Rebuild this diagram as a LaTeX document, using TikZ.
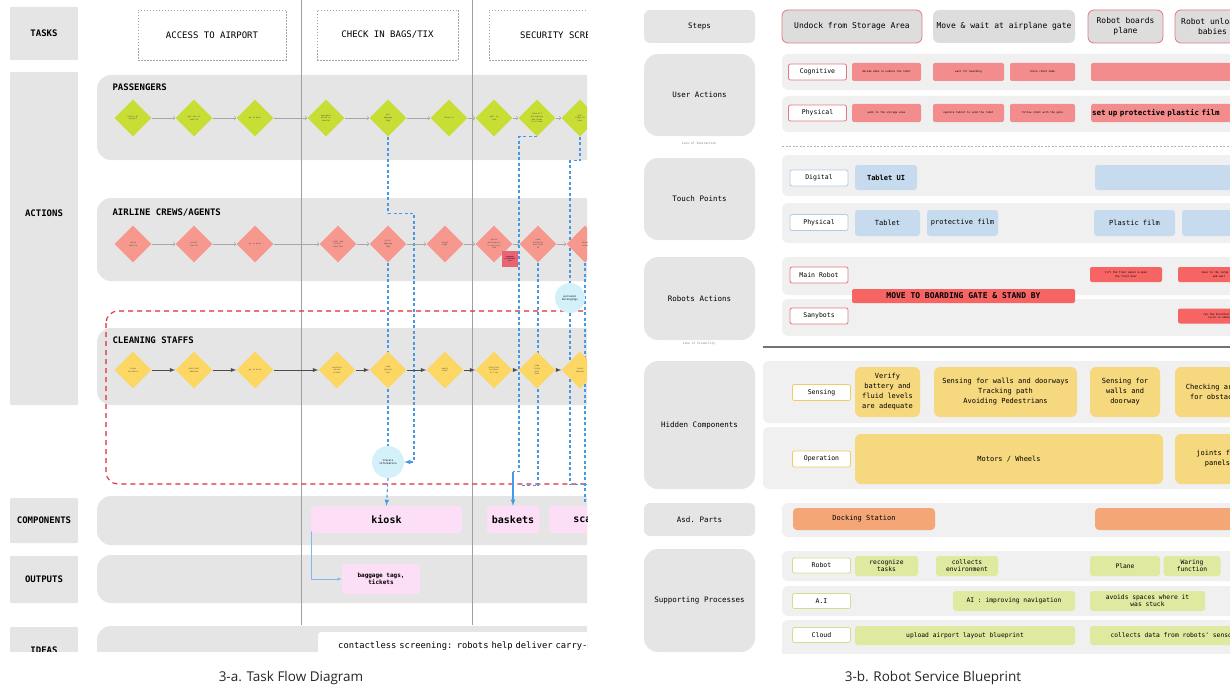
\documentclass[tikz,border=0pt]{standalone}
\usepackage{fontspec}
\setmainfont{Open Sans}
\setmonofont{DejaVu Sans Mono}
\usetikzlibrary{shapes.geometric,calc}
\pgfdeclarelayer{back}
\pgfdeclarelayer{mid}
\pgfsetlayers{back,mid,main}

\newcommand\fsz[2]{\fontsize{#1}{#2}\selectfont}

\definecolor{lblgray}{RGB}{229,229,229}
\definecolor{rowgray}{RGB}{240,240,240}
\definecolor{stepgray}{RGB}{221,221,221}
\definecolor{limec}{RGB}{200,222,52}
\definecolor{salmon}{RGB}{247,152,142}
\definecolor{sun}{RGB}{253,215,100}
\definecolor{pinkc}{RGB}{252,222,246}
\definecolor{cyanc}{RGB}{212,241,250}
\definecolor{flowblue}{RGB}{72,152,232}
\definecolor{dashred}{RGB}{222,42,52}
\definecolor{sticky}{RGB}{232,100,115}
\definecolor{redbox}{RGB}{243,140,140}
\definecolor{hotred}{RGB}{246,100,100}
\definecolor{tpblue}{RGB}{198,219,238}
\definecolor{hcyellow}{RGB}{246,216,126}
\definecolor{orangec}{RGB}{245,166,118}
\definecolor{greenc}{RGB}{223,233,160}
\definecolor{redline}{RGB}{228,120,125}
\definecolor{blueline}{RGB}{175,205,235}
\definecolor{yelline}{RGB}{240,205,100}
\definecolor{grnline}{RGB}{210,222,140}

\tikzset{
  lblbox/.style={fill=lblgray, minimum width=68pt, rounded corners=1pt, font=\ttfamily\bfseries\fsz{9}{10}},
  lane/.style={fill=lblgray, rounded corners=14pt},
  lanetitle/.style={anchor=west, font=\ttfamily\bfseries\fsz{9}{10}},
  taskbox/.style={draw=gray!70, dash pattern=on 1.5pt off 1.5pt, line width=0.6pt, fill=white, minimum height=50pt, font=\ttfamily\fsz{9}{10}},
  dia/.style={diamond, minimum size=37pt, inner sep=0pt, align=center, text=black!70, font=\ttfamily\fsz{2}{2.6}},
  dpass/.style={dia, fill=limec},
  dcrew/.style={dia, fill=salmon},
  dclean/.style={dia, fill=sun},
  pline/.style={draw=gray!70, line width=0.6pt, ->},
  cline/.style={draw=black!70, line width=0.9pt, -latex},
  bflow/.style={draw=flowblue, line width=1.1pt, dash pattern=on 3pt off 2.5pt},
  info/.style={circle, fill=cyanc, minimum size=32pt, inner sep=0pt, align=center, font=\ttfamily\fsz{2.6}{3.2}},
  comp/.style={fill=pinkc, rounded corners=3pt, minimum height=27pt, font=\ttfamily\bfseries\fsz{10}{11}},
  % 右图样式
  steplbl/.style={fill=lblgray, rounded corners=6pt, minimum width=111pt, font=\ttfamily\fsz{7.5}{9}},
  tinytxt/.style={text=gray, font=\ttfamily\fsz{3}{3.5}},
  rowbg/.style={fill=rowgray, rounded corners=6pt},
  rowtag/.style={fill=white, line width=0.8pt, rounded corners=2pt, minimum width=58pt, minimum height=16pt, inner sep=1pt, font=\ttfamily\fsz{6.5}{8}},
  stepcard/.style={fill=stepgray, rounded corners=6pt, minimum height=33pt, align=center, line width=0.8pt, font=\ttfamily\fsz{8}{9.5}},
  ua/.style={fill=redbox, rounded corners=2pt, minimum height=18pt, inner sep=1pt, align=center, font=\ttfamily\fsz{2.6}{3.2}},
  tp/.style={fill=tpblue, rounded corners=3pt, minimum height=25pt, font=\ttfamily\fsz{7}{8.5}},
  hot/.style={fill=hotred, rounded corners=2pt, minimum height=15pt, inner sep=1pt, align=center, font=\ttfamily\fsz{2.6}{3.2}},
  hc/.style={fill=hcyellow, rounded corners=6pt, minimum height=50pt, align=center, font=\ttfamily\fsz{7}{10}},
  orng/.style={fill=orangec, rounded corners=4pt, minimum height=22pt, font=\ttfamily\fsz{7}{8}},
  sp/.style={fill=greenc, rounded corners=3pt, minimum height=20pt, inner sep=1pt, align=center, font=\ttfamily\fsz{6.3}{7}}
}

\begin{document}
\begin{tikzpicture}[x=1pt,y=-1pt]
\useasboundingbox (0,0) rectangle (1230,690);

% ===== 3-a 任务流程图 =====
\begin{scope}
\clip (0,0) rectangle (587,651);

% 泳道、分隔线、红色虚线框
\begin{pgfonlayer}{back}
\begin{scope}
\clip (0,0) rectangle (587,651);
\fill[lane] (97,75) rectangle (640,160);
\fill[lane] (97,198) rectangle (640,281);
\fill[lane] (97,328) rectangle (640,405);
\fill[lane] (97,496) rectangle (640,545);
\fill[lane] (97,555) rectangle (640,603);
\fill[lane] (97,626) rectangle (640,680);
\foreach \x in {301,472} \draw[gray!75, line width=0.6pt] (\x,0) -- (\x,625);
\draw[dashred, line width=1.1pt, dash pattern=on 5pt off 4pt, rounded corners=12pt] (106,311) rectangle (640,484);
\end{scope}
\end{pgfonlayer}

% 左侧标签
\node[lblbox, minimum height=53pt] (tasks) at (44,33.5) {TASKS};
\node[lblbox, minimum height=333pt] (actions) at (44,238.5) {};
\node[lanetitle, anchor=center] (actlbl) at (44,213) {ACTIONS};
\node[lblbox, minimum height=45pt] (components) at (44,520.5) {COMPONENTS};
\node[lblbox, minimum height=47pt] (outputs) at (44,579.5) {OUTPUTS};
\node[lblbox, minimum height=46pt] (ideas) at (44,650) {IDEAS};

% 任务
\node[taskbox, minimum width=148pt] (access) at (212,35) {ACCESS TO AIRPORT};
\node[taskbox, minimum width=141pt] (checkin) at (387.5,35) {CHECK IN BAGS/TIX};
\node[taskbox, minimum width=160pt] (security) at (569,35) {SECURITY SCREENING};

% 泳道标题
\node[lanetitle] (pass) at (109,87) {PASSENGERS};
\node[lanetitle] (crew) at (109,213) {AIRLINE CREWS/AGENTS};
\node[lanetitle] (clean) at (109,340) {CLEANING STAFFS};

% 菱形步骤
\foreach \x/\t [count=\i] in {133/{arrive at\\airport}, 194/{get out of\\vehicle}, 255/{go to door},
    326/{approach\\kiosk or\\counter}, 388/{get\\baggage\\tags}, 449/{check in},
    494/{wait in\\line}, 537/{take off\\belongings\\and shoes\\to screen}, 580/{put\\items in\\bins}}
  \node[dpass] (p\i) at (\x,118) {\t};
\foreach \x/\t [count=\i] in {133/{check\\vehicle}, 194/{direct\\traffic}, 255/{go to gate},
    338/{greet and\\assist\\travelers}, 388/{print\\baggage\\tags}, 445/{weigh\\bags},
    494/{guide\\passengers\\to security\\line}, 538/{scan\\boarding\\pass and\\ID}, 585/{check\\items}}
  \node[dcrew] (a\i) at (\x,244) {\t};
\foreach \x/\t [count=\i] in {133/{clean\\entrance}, 194/{disinfect\\handles}, 255/{go to area},
    337/{sanitize\\kiosk\\screen}, 388/{wipe\\counter\\top}, 445/{empty\\bins},
    494/{disinfect\\surfaces\\in line}, 537/{wipe\\trays\\and\\bins}, 580/{clean\\scanner}}
  \node[dclean] (c\i) at (\x,370) {\t};

% 步骤之间的连线
\foreach \i in {1,...,8}{
  \pgfmathtruncatemacro\nxt{\i+1}
  \draw[pline] (p\i) -- (p\nxt);
  \draw[pline] (a\i) -- (a\nxt);
  \draw[cline] (c\i) -- (c\nxt);
}

\node[fill=sticky, minimum size=16pt, inner sep=0pt, align=center, font=\ttfamily\fsz{1.8}{2.2}] (note) at (510,259) {baggage\\overweight\\fee};

% 信息圆
\node[info] (trav) at (388,462) {travels\\information};
\node[info, minimum size=30pt] (pers) at (570,298) {personal\\belongings};

% 组件与输出
\node[comp, minimum width=151pt] (kiosk) at (386.5,519.5) {kiosk};
\node[comp, minimum width=53pt] (baskets) at (513,519.5) {baskets};
\node[comp, minimum width=91pt] (scanner) at (594.5,519.5) {scanner};
\node[comp, minimum width=78pt, minimum height=30pt, align=center, font=\ttfamily\bfseries\fsz{6}{7.5}] (tags) at (381,579) {baggage tags,\\tickets};
\node[fill=white, rounded corners=3pt, anchor=west, minimum height=28pt, text width=300pt, align=left, inner xsep=20pt,
  font=\ttfamily\fsz{8.8}{10}] (idea) at (318,646) {contactless screening: robots help deliver carry-on items};

% 蓝色虚线
\begin{pgfonlayer}{mid}
\begin{scope}
\clip (0,0) rectangle (587,651);
\draw[bflow,-latex] (p5.south) -- ++(0,77) -- ++(26,0) |- (trav.east);
\draw[bflow] (a5.south) -- (trav.north);
\draw[bflow,-latex] (trav.south) -- (kiosk.north);
\draw[bflow] (p8.south) -- ++(-18,0) -- ++(0,335) -- ++(-6,0) coordinate (bk);
\draw[flowblue, line width=1.1pt, -latex] (bk) -- (baskets.north);
\draw[bflow] (a8.south) -- ++(0,223) -- ++(-18,0);
\draw[bflow] (p9.south) -- ++(0,24) -| (pers.north);
\draw[bflow] (pers.south) -- ++(0,171) -- ++(20,0);
\draw[bflow] (a9.south) -- ++(0,240);
\draw[flowblue!70, line width=0.5pt, -latex] (kiosk.west) |- (tags.west);
\end{scope}
\end{pgfonlayer}
\end{scope}

% 图注
\node[text=black!85, font=\fsz{13.5}{16}] (capa) at (291,678) {3-a. Task Flow Diagram};
\node[text=black!85, font=\fsz{13.5}{16}] (capb) at (933,678) {3-b. Robot Service Blueprint};

% ===== 3-b 服务蓝图 =====
\begin{scope}
\clip (630,0) rectangle (1230,653);

% 行背景
\fill[rowbg] (782,54) rectangle (1250,90);
\fill[rowbg] (782,96) rectangle (1250,132);
\draw[gray!60, dash pattern=on 2pt off 1.5pt] (782,146) -- (1230,146);
\fill[rowbg] (782,155) rectangle (1250,196);
\fill[rowbg] (782,203) rectangle (1250,243);
\fill[rowbg] (782,257) rectangle (1250,295);
\fill[rowbg] (782,299) rectangle (1250,336);
\draw[black!55, line width=1.2pt] (763,347) -- (1230,347);
\fill[rowbg] (763,361) rectangle (1250,423);
\fill[rowbg] (763,427) rectangle (1250,489);
\fill[rowbg] (782,503) rectangle (1250,537);
\fill[rowbg] (782,551) rectangle (1250,581);
\fill[rowbg] (782,586) rectangle (1250,616);
\fill[rowbg] (782,620) rectangle (1250,660);

% 左侧标签
\node[steplbl, minimum height=33pt] (steps) at (699.5,26.5) {Steps};
\node[steplbl, minimum height=82pt, rounded corners=14pt] (useract) at (699.5,95) {User Actions};
\node[tinytxt] (loi) at (699,143) {Line of Interaction};
\node[steplbl, minimum height=82pt, rounded corners=14pt] (touch) at (699.5,199) {Touch Points};
\node[steplbl, minimum height=83pt, rounded corners=14pt] (robots) at (699.5,298.5) {Robots Actions};
\node[tinytxt] (lov) at (699,344) {Line of Visibility};
\node[steplbl, minimum height=128pt, rounded corners=14pt] (hidden) at (699.5,425) {Hidden Components};
\node[steplbl, minimum height=33pt] (parts) at (699.5,519.5) {Asd. Parts};
\node[steplbl, minimum height=103pt, rounded corners=14pt] (support) at (699.5,600.5) {Supporting Processes};

% 步骤
\node[stepcard, draw=redline, minimum width=140pt] (undock) at (852,26.5) {Undock from Storage Area};
\node[stepcard, minimum width=142pt] (movewait) at (1004,26.5) {Move \& wait at airplane gate};
\node[stepcard, draw=redline, minimum width=75pt] (boards) at (1125.5,26.5) {Robot boards\\plane};
\node[stepcard, draw=redline, minimum width=75pt] (unloads) at (1212.5,26.5) {Robot unloads\\babies};

% 行标签
\node[rowtag, draw=redline] (cog) at (817.5,72) {Cognitive};
\node[rowtag, draw=redline] (uphys) at (817.5,113) {Physical};
\node[rowtag, draw=blueline] (digital) at (819,178) {Digital};
\node[rowtag, draw=blueline] (tphys) at (819,222.5) {Physical};
\node[rowtag, draw=redline] (mainbot) at (819,275) {Main Robot};
\node[rowtag, draw=redline] (sanibot) at (819,316) {Sanybots};
\node[rowtag, draw=yelline] (sensing) at (821.5,392.5) {Sensing};
\node[rowtag, draw=yelline] (operation) at (821.5,459) {Operation};
\node[rowtag, draw=grnline, minimum height=15pt] (srobot) at (821.5,565.5) {Robot};
\node[rowtag, draw=grnline, minimum height=15pt] (sai) at (821.5,601) {A.I};
\node[rowtag, draw=grnline, minimum height=15pt] (scloud) at (821.5,635) {Cloud};

% 用户行为
\node[ua, minimum width=69pt] (cog1) at (886.5,72) {decide when to undock the robot};
\node[ua, minimum width=71pt] (cog2) at (968.5,72) {wait for boarding};
\node[ua, minimum width=65pt] (cog3) at (1042.5,72) {check robot mode};
\node[ua, minimum width=169pt] (cog4) at (1175.5,72) {};
\node[ua, minimum width=69pt] (phy1) at (886.5,113) {walk to the storage area};
\node[ua, minimum width=71pt] (phy2) at (968.5,113) {operate tablet to send the robot};
\node[ua, minimum width=65pt] (phy3) at (1042.5,113) {follow robot with the gate};
\node[ua, anchor=west, text width=165pt, align=left, font=\ttfamily\bfseries\fsz{7.5}{9}] (phy4) at (1091,113) {set up protective plastic film};

% 接触点
\node[tp, minimum width=62pt, font=\ttfamily\bfseries\fsz{7}{8.5}] (tabui) at (886,177.5) {Tablet UI};
\node[tp, minimum width=165pt] (tpbig) at (1177.5,177.5) {};
\node[tp, minimum width=65pt, minimum height=26pt] (tablet) at (887.5,223) {Tablet};
\node[tp, minimum width=71pt, minimum height=26pt] (pfilm) at (962.5,223) {protective film};
\node[tp, minimum width=81pt, minimum height=26pt] (plfilm) at (1134.5,223) {Plastic film};
\node[tp, minimum width=78pt, minimum height=26pt] (tpend) at (1221,223) {};

% 机器人行为
\node[hot, minimum width=72pt] (rb1) at (1126,274.5) {lift the floor panel \& open\\the front door};
\node[hot, minimum width=82pt] (rb2) at (1219,274.5) {move to the cargo area\\and wait};
\node[hot, minimum width=223pt, minimum height=14pt, font=\ttfamily\bfseries\fsz{8}{9}] (moveto) at (963.5,296) {MOVE TO BOARDING GATE \& STAND BY};
\node[hot, minimum width=82pt] (sb1) at (1219,316) {run the disinfection\\cycle in cabin};

% 隐藏组件
\node[hc, minimum width=65pt] (verify) at (887.5,392) {Verify\\battery and\\fluid levels\\are adequate};
\node[hc, minimum width=143pt] (walls) at (1005.5,392) {Sensing for walls and doorways\\Tracking path\\Avoiding Pedestrians};
\node[hc, minimum width=70pt] (walls2) at (1125,392) {Sensing for\\walls and\\doorway};
\node[hc, minimum width=85pt] (obst) at (1217.5,392) {Checking around\\for obstacles};
\node[hc, minimum width=308pt] (motors) at (1009,459) {Motors / Wheels};
\node[hc, minimum width=85pt] (joints) at (1217.5,459) {joints for\\panels};

% 附加部件
\node[orng, minimum width=142pt] (docking) at (864,519) {Docking Station};
\node[orng, minimum width=165pt] (orng2) at (1177.5,519) {};

% 支持流程
\node[sp, minimum width=63pt] (recog) at (886.5,566) {recognize\\tasks};
\node[sp, minimum width=62pt] (collenv) at (967,566) {collects\\environment};
\node[sp, minimum width=70pt] (plane) at (1125,566) {Plane};
\node[sp, minimum width=57pt] (waring) at (1192,566) {Waring\\function};
\node[sp, minimum width=122pt] (aiimp) at (1014,601) {AI : improving navigation};
\node[sp, minimum width=115pt] (avoids) at (1147.5,601) {avoids spaces where it\\was stuck};
\node[sp, minimum width=220pt, minimum height=19pt] (upload) at (965,635.5) {upload airport layout blueprint};
\node[sp, minimum width=170pt, minimum height=19pt] (colldata) at (1175,635.5) {collects data from robots' sensors};
\end{scope}

\end{tikzpicture}
\end{document}
